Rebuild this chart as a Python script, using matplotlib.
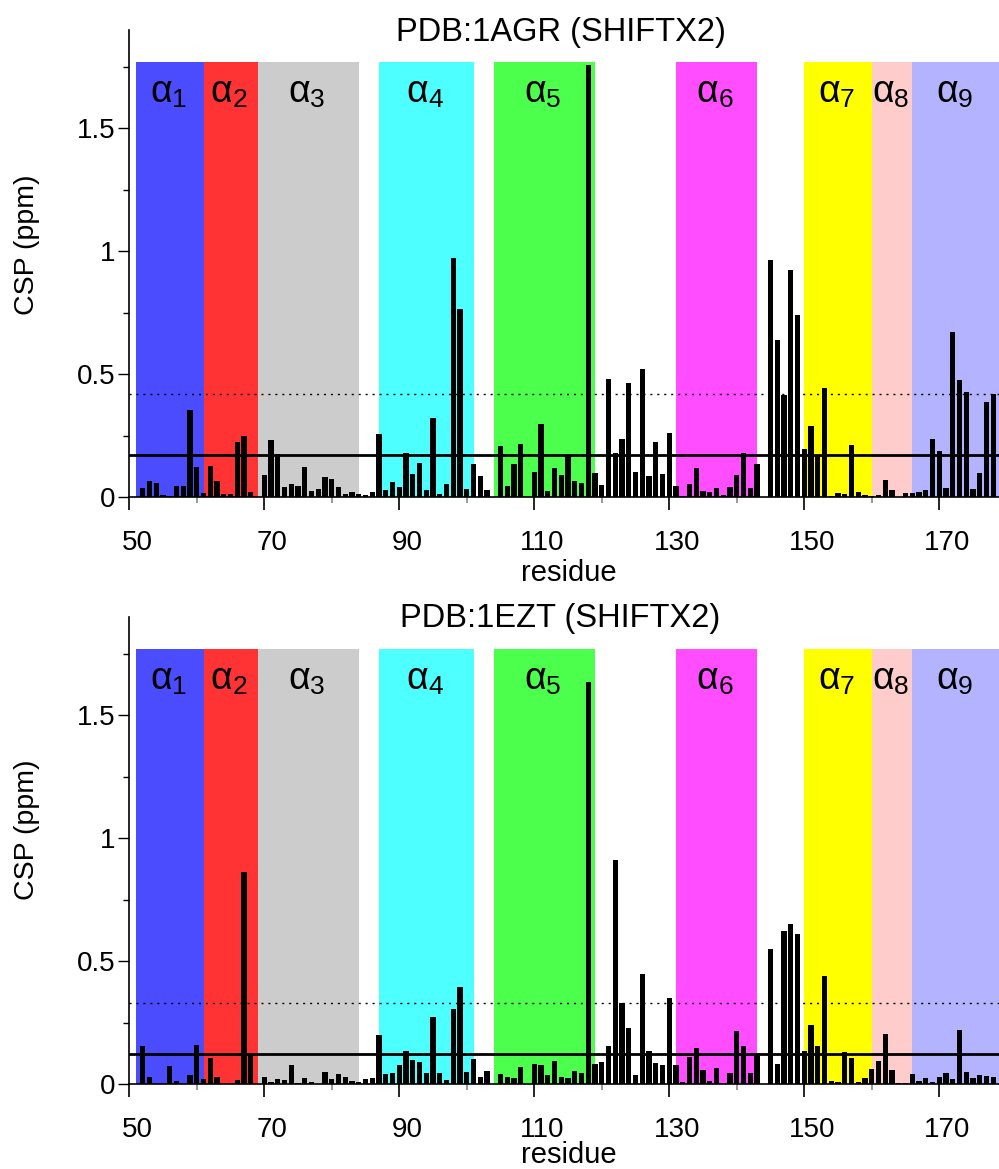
import numpy as np
import matplotlib
matplotlib.use("Agg")
import matplotlib.pyplot as plt
from matplotlib.ticker import FixedLocator, MultipleLocator
from matplotlib.transforms import ScaledTranslation

plt.rcParams['font.family'] = ['Liberation Sans', 'DejaVu Sans']

# --- DATA ---
residues = np.arange(52, 179)
nan = np.nan

csp_1agr = [
    0.037, 0.065, 0.058, 0.007, 0.004, 0.043, 0.047, 0.354, 0.122,   # 52-60
    0.016, 0.128, 0.066, 0.014, 0.011, 0.225, 0.250, 0.022, nan,     # 61-69
    0.090, 0.233, 0.176, 0.039, 0.052, 0.047, 0.121, 0.024, 0.031,   # 70-78
    0.080, 0.072, 0.041, 0.011, 0.019, 0.014, 0.007, 0.022, 0.258,   # 79-87
    0.027, 0.061, 0.041, 0.179, 0.092, 0.137, 0.028, 0.322, 0.011,   # 88-96
    0.052, 0.973, 0.765, 0.031, 0.133, 0.085, 0.027, nan, 0.209,     # 97-105
    0.045, 0.133, 0.217, nan, 0.102, 0.296, 0.024, 0.117, 0.090,     # 106-114
    0.175, 0.064, 0.057, 1.758, 0.098, 0.050, 0.480, 0.179, 0.236,   # 115-123
    0.464, 0.100, 0.521, 0.084, 0.224, 0.092, 0.260, 0.043, 0.003,   # 124-132
    0.052, 0.117, 0.026, 0.019, 0.038, 0.007, 0.041, 0.088, 0.178,   # 133-141
    0.038, 0.133, nan, 0.965, 0.640, 0.415, 0.924, 0.740, 0.194,     # 142-150
    0.289, 0.167, 0.445, 0.004, 0.015, 0.014, 0.213, 0.019, 0.008,   # 151-159
    0.004, 0.007, 0.069, 0.027, nan, 0.016, 0.016, 0.019, 0.030,     # 160-168
    0.237, 0.189, 0.037, 0.672, 0.476, 0.429, 0.033, 0.099, 0.387,   # 169-177
    0.420,                                                           # 178
]

csp_1ezt = [
    0.155, 0.030, nan, nan, 0.074, 0.012, nan, 0.036, 0.160,         # 52-60
    0.019, 0.104, 0.030, nan, 0.004, 0.015, 0.862, 0.126, nan,       # 61-69
    0.027, 0.010, 0.022, 0.016, 0.077, 0.004, 0.026, 0.010, nan,     # 70-78
    0.049, 0.019, 0.041, 0.030, 0.014, 0.007, 0.020, 0.026, 0.200,   # 79-87
    0.039, 0.046, 0.077, 0.133, 0.099, 0.088, 0.046, 0.272, 0.043,   # 88-96
    0.015, 0.305, 0.395, 0.049, 0.101, 0.028, 0.054, nan, 0.039,     # 97-105
    0.028, 0.024, 0.069, nan, 0.081, 0.077, 0.037, 0.092, 0.027,     # 106-114
    0.023, 0.053, 0.046, 1.637, 0.081, 0.091, 0.154, 0.910, 0.331,   # 115-123
    0.226, 0.037, 0.448, 0.134, 0.087, 0.077, 0.350, 0.079, 0.008,   # 124-132
    0.110, 0.148, 0.056, 0.012, 0.066, 0.004, 0.045, 0.215, 0.155,   # 133-141
    0.045, 0.125, nan, 0.548, 0.081, 0.624, 0.651, 0.611, 0.134,     # 142-150
    0.241, 0.153, 0.440, 0.012, 0.008, 0.130, 0.104, 0.007, 0.023,   # 151-159
    0.062, 0.095, 0.202, 0.056, 0.004, 0.004, 0.041, 0.012, 0.024,   # 160-168
    0.008, 0.028, 0.043, 0.022, 0.219, 0.050, 0.023, 0.035, 0.033,   # 169-177
    0.030,                                                           # 178
]

mean_1agr, cut_1agr = 0.170, 0.420
mean_1ezt, cut_1ezt = 0.121, 0.330

helix_names = ['1', '2', '3', '4', '5', '6', '7', '8', '9']
helix_start = [51, 61, 69, 87, 104, 131, 150, 160, 166]
helix_end = [61, 69, 84, 101, 119, 143, 160, 166, 178.85]
helix_colors = ['#4c4cff', '#ff3333', '#cccccc', '#4dffff', '#4dff4d',
                '#ff4dff', '#ffff00', '#ffcccc', '#b3b3ff']

x_major = [50, 70, 90, 110, 130, 150, 170]
x_minor = [60, 80, 100, 120, 140, 160]

XMAX = 178.85
YMAX = 1.90
BAND_TOP = 1.771

fig = plt.figure(figsize=(9.99, 11.69), dpi=100)
ax_top = fig.add_axes([0.1294, 0.5748, 0.8706, 0.3995])
ax_bot = fig.add_axes([0.1294, 0.0727, 0.8706, 0.3995])


def draw_panel(ax, csp, mean, cut, title, title_y, label_y):
    for s, e, c in zip(helix_start, helix_end, helix_colors):
        ax.fill_between([s, e], 0, BAND_TOP, color=c, lw=0, zorder=0)
    ax.axhline(cut, color='black', lw=1.0, ls=(0, (1.5, 3.5)), zorder=1)
    ax.bar(residues, csp, width=0.75, color='black', lw=0, zorder=2)
    ax.axhline(mean, color='black', lw=2.0, zorder=3)

    for name, s, e in zip(helix_names, helix_start, helix_end):
        c = (s + e) / 2
        ax.text(c + 0.3, 1.608, 'α', fontsize=27, ha='right', va='baseline', zorder=4)
        ax.text(c + 0.3, 1.585, name, fontsize=19, ha='left', va='baseline', zorder=4)

    ax.set_xlim(50, XMAX)
    ax.set_ylim(0, YMAX)
    for side in ['top', 'right']:
        ax.spines[side].set_visible(False)
    ax.spines['left'].set_linewidth(1.2)
    ax.spines['bottom'].set_linewidth(1.2)

    ax.xaxis.set_major_locator(FixedLocator(x_major))
    ax.xaxis.set_minor_locator(FixedLocator(x_minor))
    ax.yaxis.set_minor_locator(MultipleLocator(0.25))
    ax.set_yticks([0, 0.5, 1, 1.5])
    ax.set_yticklabels(['0', '0.5', '1', '1.5'])
    ax.tick_params(axis='x', which='major', length=9.5, width=1.2, pad=14, labelsize=20)
    ax.tick_params(axis='x', which='minor', length=4.5, width=1.2, color='#888888')
    ax.tick_params(axis='y', which='major', length=8, width=1.0, pad=2, labelsize=20)
    ax.tick_params(axis='y', which='minor', length=4.5, width=1.0)
    shift = ScaledTranslation(8 / 100, 0, fig.dpi_scale_trans)
    for lab in ax.get_xticklabels():
        lab.set_transform(lab.get_transform() + shift)

    fig.text(0.561, title_y, title, fontsize=23.5, ha='center', va='center')
    fig.text(0.569, label_y, 'residue', fontsize=21, ha='center', va='center')


draw_panel(ax_top, csp_1agr, mean_1agr, cut_1agr, 'PDB:1AGR (SHIFTX2)',
           1 - 32 / 1169, 1 - 573 / 1169)
draw_panel(ax_bot, csp_1ezt, mean_1ezt, cut_1ezt, 'PDB:1EZT (SHIFTX2)',
           1 - 618 / 1169, 1 - 1155 / 1169)

fig.text(0.027, 1 - 245 / 1169, 'CSP (ppm)', fontsize=20.5, rotation=90, ha='center', va='center')
fig.text(0.027, 1 - 830 / 1169, 'CSP (ppm)', fontsize=20.5, rotation=90, ha='center', va='center')

fig.savefig('out.png', dpi=100)
